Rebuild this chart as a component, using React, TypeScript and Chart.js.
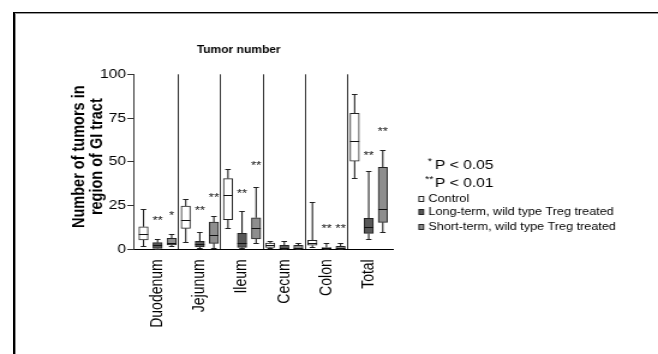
import React, { useEffect, useRef } from 'react';
import { Chart, registerables } from 'chart.js';

Chart.register(...registerables);

// ---------------- data ----------------
const CATEGORIES = ['Duodenum', 'Jejunum', 'Ileum', 'Cecum', 'Colon', 'Total'];
const SERIES_NAMES = ['Control', 'Long-term, wild type Treg treated', 'Short-term, wild type Treg treated'];
const Y_TICKS = [0, 25, 50, 75, 100];
const CHART_TITLE = 'Tumor number';
const Y_TITLE = ['Number of tumors in', 'region of GI tract'];
const P_MARKS = ['*', '**'];
const P_TEXTS = ['P < 0.05', 'P < 0.01'];

const CONTROL_MIN = [2, 4, 12, 0.5, 1.3, 41];
const CONTROL_Q1 = [5.3, 12, 17, 1.1, 2.3, 50.4];
const CONTROL_MED = [8.7, 16.6, 30.8, 2.3, 3.4, 62];
const CONTROL_Q3 = [12.9, 24.7, 40.4, 3.6, 5.1, 77.7];
const CONTROL_MAX = [23, 29, 46, 5, 27, 89];

const LONG_MIN = [0, 1, 0.7, 0, 0, 6];
const LONG_Q1 = [0.5, 1.3, 1.1, 0, 0, 9.1];
const LONG_MED = [2.3, 3, 3.8, 1, 0.5, 12.6];
const LONG_Q3 = [3.8, 4.6, 9.1, 2.3, 1, 17.7];
const LONG_MAX = [6, 10, 22, 5, 3.8, 45];

const SHORT_MIN = [2, 0.5, 3.8, 0, 0, 10];
const SHORT_Q1 = [2.5, 3.4, 6, 0, 0.3, 15.4];
const SHORT_MED = [3.5, 8.2, 12, 1, 1, 23.2];
const SHORT_Q3 = [6.3, 15.6, 18, 2.3, 1.7, 46.8];
const SHORT_MAX = [9, 19, 35.8, 3.8, 3.8, 57];

const LONG_STARS = ['**', '**', '**', '', '**', '**'];
const LONG_STAR_Y = [18, 23.6, 33.5, 0, 13.3, 55.2];
const SHORT_STARS = ['*', '**', '**', '', '**', '**'];
const SHORT_STAR_Y = [21, 31.2, 49.5, 0, 13.3, 68.7];

// ---------------- layout / style ----------------
const FONT = '"Liberation Sans", Arial, Helvetica, sans-serif';
const CSS_W = 658;
const CSS_H = 354;
const W = Math.round(CSS_W / 1.2);
const SX = CSS_W / W; // horizontal stretch of the canvas
const ix = (refX: number) => refX / SX;

const PLOT_LEFT = ix(133.3);
const PLOT_RIGHT = ix(393);
const PLOT_TOP = 74.3;
const PLOT_BOTTOM = 249.3;
const X_MIN = -0.575;
const X_MAX = 5.575;
const BOX_W = ix(9.2);
const CAP_W = ix(5.5);
const LINE = '#222';
const SEP = '#333';

const SERIES = [
  { name: SERIES_NAMES[0], fill: '#ffffff', offset: -1 / 3, min: CONTROL_MIN, q1: CONTROL_Q1, med: CONTROL_MED, q3: CONTROL_Q3, max: CONTROL_MAX, stars: null as null | string[], starY: null as null | number[] },
  { name: SERIES_NAMES[1], fill: '#585858', offset: 0, min: LONG_MIN, q1: LONG_Q1, med: LONG_MED, q3: LONG_Q3, max: LONG_MAX, stars: LONG_STARS, starY: LONG_STAR_Y },
  { name: SERIES_NAMES[2], fill: '#8e8e8e', offset: 1 / 3, min: SHORT_MIN, q1: SHORT_Q1, med: SHORT_MED, q3: SHORT_Q3, max: SHORT_MAX, stars: SHORT_STARS, starY: SHORT_STAR_Y },
];

const X_TICK_VALUES: number[] = [];
CATEGORIES.forEach((_, i) => {
  X_TICK_VALUES.push(i);
  if (i < CATEGORIES.length - 1) X_TICK_VALUES.push(i + 0.5);
});

const snap = (v: number) => Math.round(v) + 0.5;

const boxPlugin = {
  id: 'boxExtras',
  beforeDatasetsDraw(chart: any) {
    const { ctx } = chart;
    const x = chart.scales.x;
    const y = chart.scales.y;
    ctx.save();
    ctx.strokeStyle = LINE;
    ctx.lineWidth = 1.1;
    SERIES.forEach((s) => {
      CATEGORIES.forEach((_, i) => {
        const cx = x.getPixelForValue(i + s.offset);
        const yMax = snap(y.getPixelForValue(s.max[i]));
        const yQ3 = y.getPixelForValue(s.q3[i]);
        const yMin = snap(y.getPixelForValue(s.min[i]));
        const yQ1 = y.getPixelForValue(s.q1[i]);
        ctx.beginPath();
        ctx.moveTo(cx, yMax);
        ctx.lineTo(cx, yQ3);
        ctx.moveTo(cx - CAP_W / 2, yMax);
        ctx.lineTo(cx + CAP_W / 2, yMax);
        ctx.moveTo(cx, yQ1);
        ctx.lineTo(cx, yMin);
        ctx.moveTo(cx - CAP_W / 2, yMin);
        ctx.lineTo(cx + CAP_W / 2, yMin);
        ctx.stroke();
      });
    });
    ctx.restore();
  },
  afterDatasetsDraw(chart: any) {
    const { ctx } = chart;
    const x = chart.scales.x;
    const y = chart.scales.y;
    ctx.save();
    ctx.strokeStyle = '#111';
    ctx.lineWidth = 1;
    SERIES.forEach((s) => {
      CATEGORIES.forEach((_, i) => {
        const cx = x.getPixelForValue(i + s.offset);
        const ym = snap(y.getPixelForValue(s.med[i]));
        ctx.beginPath();
        ctx.moveTo(cx - BOX_W / 2, ym);
        ctx.lineTo(cx + BOX_W / 2, ym);
        ctx.stroke();
      });
    });
    // significance stars
    ctx.fillStyle = '#111';
    ctx.font = `11px ${FONT}`;
    ctx.textAlign = 'center';
    ctx.textBaseline = 'alphabetic';
    SERIES.forEach((s) => {
      if (!s.stars || !s.starY) return;
      s.stars.forEach((txt, i) => {
        if (!txt) return;
        const cx = x.getPixelForValue(i + s.offset);
        const cy = y.getPixelForValue(s.starY![i]);
        ctx.fillText(txt, cx, cy + 11 * 0.575);
      });
    });
    ctx.restore();
  },
  afterDraw(chart: any) {
    const { ctx } = chart;
    ctx.save();
    ctx.fillStyle = '#000';
    // chart title
    ctx.font = `bold 10px ${FONT}`;
    ctx.textAlign = 'center';
    ctx.textBaseline = 'alphabetic';
    ctx.fillText(CHART_TITLE, ix(238.7), 53.3);
    // y-axis title
    ctx.font = `bold 14.5px ${FONT}`;
    ctx.textBaseline = 'middle';
    const lineCx = [ix(79), ix(97)];
    Y_TITLE.forEach((t, k) => {
      ctx.save();
      ctx.translate(lineCx[k], 156.7);
      ctx.rotate(-Math.PI / 2);
      ctx.fillText(t, 0, 0);
      ctx.restore();
    });
    // p-value notes
    const pBase = [169, 186.7];
    const markCx = [ix(430), ix(429.2)];
    P_MARKS.forEach((m, k) => {
      ctx.font = `9px ${FONT}`;
      ctx.textAlign = 'center';
      ctx.textBaseline = 'alphabetic';
      ctx.fillText(m, markCx[k], pBase[k] - 9 * 0.1 - 4);
      ctx.font = `13px ${FONT}`;
      ctx.textAlign = 'left';
      ctx.fillText(P_TEXTS[k], ix(435), pBase[k]);
    });
    // series legend
    const legBase = [202, 215.3, 230.3];
    ctx.font = `10.5px ${FONT}`;
    ctx.textAlign = 'left';
    ctx.textBaseline = 'alphabetic';
    SERIES.forEach((s, k) => {
      const sx0 = ix(419);
      const sw = ix(4.6);
      const sh = 5;
      const sy = Math.round(legBase[k] - 6.5);
      ctx.fillStyle = s.fill;
      ctx.fillRect(sx0, sy, sw, sh);
      ctx.strokeStyle = LINE;
      ctx.lineWidth = 1;
      ctx.strokeRect(sx0, sy + 0.5, sw, sh);
      ctx.fillStyle = '#000';
      ctx.fillText(s.name, ix(428.5), legBase[k]);
    });
    ctx.restore();
  },
};

export default function App() {
  const ref = useRef<HTMLCanvasElement>(null);

  useEffect(() => {
    const canvas = ref.current;
    if (!canvas) return;
    Chart.defaults.font.family = FONT;
    const chart = new Chart(canvas, {
      type: 'bar',
      data: {
        datasets: SERIES.map((s) => ({
          label: s.name,
          data: CATEGORIES.map((_, i) => ({ x: i + s.offset, y: [s.q1[i], s.q3[i]] })),
          backgroundColor: s.fill,
          borderColor: LINE,
          borderWidth: 1,
          borderSkipped: false,
          grouped: false,
          barPercentage: 1,
          categoryPercentage: 1,
          maxBarThickness: BOX_W,
        })) as any,
      },
      options: {
        responsive: false,
        animation: false,
        devicePixelRatio: 1,
        events: [],
        layout: { padding: { left: 0, top: PLOT_TOP, right: W - PLOT_RIGHT, bottom: 0 } },
        plugins: {
          legend: { display: false },
          title: { display: false },
          tooltip: { enabled: false },
        },
        scales: {
          x: {
            type: 'linear',
            min: X_MIN,
            max: X_MAX,
            offset: false,
            afterBuildTicks: (scale: any) => {
              scale.ticks = X_TICK_VALUES.map((v) => ({ value: v }));
            },
            afterFit: (scale: any) => {
              scale.height = CSS_H - PLOT_BOTTOM;
            },
            ticks: {
              autoSkip: false,
              minRotation: 90,
              maxRotation: 90,
              padding: 10,
              color: '#000',
              font: { size: 14, family: FONT },
              callback: (v: any) => (Number.isInteger(v) ? CATEGORIES[v] : ''),
            },
            grid: {
              offset: false,
              drawTicks: false,
              drawOnChartArea: true,
              lineWidth: 1,
              color: (ctx: any) => {
                const v = ctx.tick ? ctx.tick.value : 0;
                return Number.isInteger(v) ? 'rgba(0,0,0,0)' : SEP;
              },
            },
            border: { display: true, color: '#000', width: 1 },
          },
          y: {
            type: 'linear',
            min: 0,
            max: 100,
            afterBuildTicks: (scale: any) => {
              scale.ticks = Y_TICKS.map((v) => ({ value: v }));
            },
            afterFit: (scale: any) => {
              scale.width = PLOT_LEFT;
            },
            ticks: {
              padding: 1,
              color: '#000',
              font: { size: 13, family: FONT },
            },
            grid: {
              drawOnChartArea: false,
              drawTicks: true,
              tickLength: 5,
              color: SEP,
            },
            border: { display: true, color: SEP, width: 1 },
          },
        },
      } as any,
      plugins: [boxPlugin],
    });
    return () => chart.destroy();
  }, []);

  return (
    <div>
      <canvas
        ref={ref}
        width={W}
        height={CSS_H}
        style={{ position: 'fixed', left: 0, top: 0, width: CSS_W + 'px', height: CSS_H + 'px' }}
      />
      <div
        style={{
          position: 'fixed',
          left: 13,
          top: 12,
          width: 700,
          height: 400,
          borderTop: '1px solid #000',
          borderLeft: '2px solid #000',
          pointerEvents: 'none',
        }}
      >
        <div style={{ position: 'absolute', left: 0, top: 0, right: 0, bottom: 0, borderTop: '1px solid #999', borderLeft: '1px solid #999' }} />
      </div>
    </div>
  );
}
